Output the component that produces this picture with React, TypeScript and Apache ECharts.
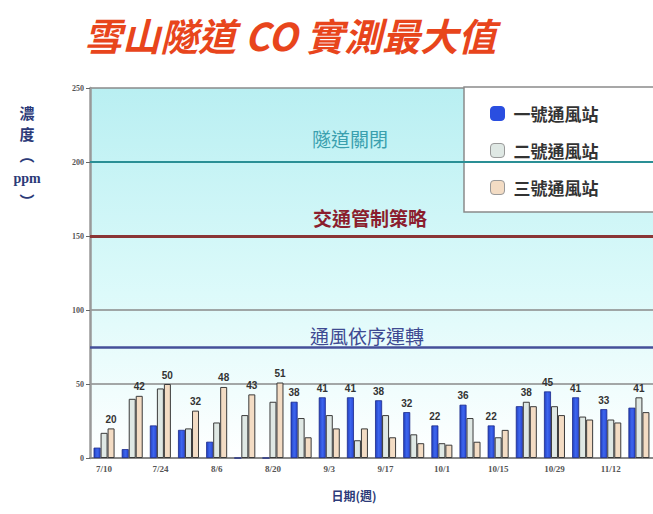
import React, { useEffect, useRef } from "react";
import * as echarts from "echarts";

const categories = [
  "7/10", "7/17", "7/24", "7/31", "8/6", "8/13", "8/20", "8/27", "9/3", "9/10",
  "9/17", "9/24", "10/1", "10/8", "10/15", "10/22", "10/29", "11/5", "11/12", "11/19",
];
const station1 = [7, 6, 22, 19, 11, 0, 0, 38, 41, 41, 39, 31, 22, 36, 22, 35, 45, 41, 33, 34];
const station2 = [17, 40, 47, 20, 24, 29, 38, 27, 29, 12, 29, 16, 10, 27, 14, 38, 35, 28, 26, 41];
const station3 = [20, 42, 50, 32, 48, 43, 51, 14, 20, 20, 14, 10, 9, 11, 19, 35, 29, 26, 24, 31];
const peakLabels = [20, 42, 50, 32, 48, 43, 51, 38, 41, 41, 38, 32, 22, 36, 22, 38, 45, 41, 33, 41];
const seriesNames = ["一號通風站", "二號通風站", "三號通風站"];
const thresholds = [
  { value: 200, name: "隧道關閉" },
  { value: 150, name: "交通管制策略" },
  { value: 75, name: "通風依序運轉" },
];
const yNameParts = ["濃", "度", "︵", "ppm", "︶"];

const CJK = '"Noto Sans CJK TC", "Noto Sans CJK SC", sans-serif';

export default function App() {
  const ref = useRef<HTMLDivElement>(null);
  useEffect(() => {
    if (!ref.current) return;
    const chart = echarts.init(ref.current, undefined, { renderer: "svg" });
    const all = [station1, station2, station3];
    const peakIdx = categories.map((_, i) => {
      let best = 0;
      for (let s = 1; s < 3; s++) if (all[s][i] > all[best][i]) best = s;
      return best;
    });
    const mk = (s: number) =>
      all[s].map((v, i) => ({
        value: v,
        label: {
          show: peakIdx[i] === s,
          position: "top",
          distance: 4,
          formatter: String(peakLabels[i]),
          color: "#333",
          fontSize: 10,
          fontWeight: "bold",
          fontFamily: "Liberation Sans, sans-serif",
        },
      }));
    const styles = [
      {
        color: new echarts.graphic.LinearGradient(0, 0, 1, 0, [
          { offset: 0, color: "#2240c0" },
          { offset: 0.5, color: "#3d66ee" },
          { offset: 1, color: "#2a4ad8" },
        ]),
        borderColor: "#1a2a8a",
        borderWidth: 0.8,
      },
      { color: "#dfe8e4", borderColor: "#3a3a3a", borderWidth: 1 },
      { color: "#f3dcc4", borderColor: "#3a3a3a", borderWidth: 1 },
    ];
    const legendColors = ["#2a4ee0", "#dfe8e4", "#f3dcc4"];
    const yNameY = [112, 133, 154, 178, 200];
    chart.setOption({
      animation: false,
      backgroundColor: "#ffffff",
      title: {
        text: "雪山隧道 CO 實測最大值",
        left: 285,
        top: 10,
        textAlign: "center",
        textStyle: {
          color: "#e8451c",
          fontSize: 38,
          fontWeight: "bold",
          fontStyle: "italic",
          fontFamily: CJK,
        },
      },
      grid: {
        left: 90,
        right: -7,
        top: 88,
        bottom: 56,
        show: true,
        borderWidth: 0,
        backgroundColor: new echarts.graphic.LinearGradient(0, 0, 0, 1, [
          { offset: 0, color: "#b9eff2" },
          { offset: 0.55, color: "#dcfafa" },
          { offset: 1, color: "#ffffff" },
        ]),
      },
      legend: {
        orient: "vertical",
        left: 464,
        top: 87,
        padding: [18, 80, 16, 26],
        backgroundColor: "#ffffff",
        borderColor: "#8a8a8a",
        borderWidth: 1.5,
        itemWidth: 14,
        itemHeight: 14,
        itemGap: 20,
        data: seriesNames.map((n, i) => ({
          name: n,
          itemStyle: { color: legendColors[i], borderColor: i === 0 ? "#2a4ee0" : "#999", borderWidth: 1 },
        })),
        textStyle: { fontSize: 17, color: "#333", fontFamily: CJK, fontWeight: "bold", padding: [0, 0, 0, 4] },
      },
      xAxis: {
        type: "category",
        data: categories,
        axisLine: { lineStyle: { color: "#888", width: 2 } },
        axisTick: { show: false },
        axisLabel: {
          interval: 1,
          fontSize: 9,
          color: "#555",
          fontWeight: "bold",
          margin: 6,
          fontFamily: "Liberation Serif, serif",
        },
      },
      yAxis: {
        type: "value",
        min: 0,
        max: 250,
        interval: 50,
        axisLine: { show: true, lineStyle: { color: "#999", width: 2.5 } },
        axisTick: { show: true, length: 4, lineStyle: { color: "#666" } },
        axisLabel: { fontSize: 8, color: "#555", margin: 6, fontFamily: "Liberation Serif, serif", fontWeight: "bold" },
        splitLine: { show: true, lineStyle: { color: "#8a8a8a", width: 1.5 } },
      },
      series: [0, 1, 2].map((s) => ({
        type: "bar",
        name: seriesNames[s],
        data: mk(s),
        barWidth: 7,
        barGap: "0%",
        itemStyle: styles[s],
        ...(s === 0
          ? {
              markLine: {
                silent: true,
                symbol: "none",
                label: { show: false },
                data: [
                  { yAxis: thresholds[0].value, lineStyle: { color: "#2a8f95", width: 2, type: "solid" } },
                  { yAxis: thresholds[1].value, lineStyle: { color: "#8a3535", width: 3, type: "solid" } },
                  { yAxis: thresholds[2].value, lineStyle: { color: "#45509a", width: 2.5, type: "solid" } },
                ],
              },
            }
          : {}),
      })),
      graphic: [
        {
          type: "text",
          x: 350,
          y: 138,
          style: {
            text: thresholds[0].name,
            fill: "#3aa0ae",
            fontSize: 19,
            fontFamily: CJK,
            align: "center",
            verticalAlign: "middle",
          },
        },
        {
          type: "text",
          x: 370,
          y: 217,
          style: {
            text: thresholds[1].name,
            fill: "#8b1e2e",
            fontSize: 19,
            fontWeight: "bold",
            fontFamily: CJK,
            align: "center",
            verticalAlign: "middle",
          },
        },
        {
          type: "text",
          x: 367,
          y: 335,
          style: {
            text: thresholds[2].name,
            fill: "#3e4a92",
            fontSize: 19,
            fontFamily: CJK,
            align: "center",
            verticalAlign: "middle",
          },
        },
        ...yNameParts.map((t, i) => ({
          type: "text",
          x: 27,
          y: yNameY[i],
          style: {
            text: t,
            fill: "#2c3a78",
            fontSize: t === "ppm" ? 14 : 15,
            fontWeight: "bold",
            fontFamily: t === "ppm" ? "Liberation Serif, serif" : CJK,
            align: "center",
            verticalAlign: "middle",
          },
        })),
        {
          type: "text",
          x: 354,
          y: 495,
          style: {
            text: "日期(週)",
            fill: "#2c3a78",
            fontSize: 12,
            fontWeight: "bold",
            fontFamily: CJK,
            align: "center",
            verticalAlign: "middle",
          },
        },
      ],
    });
    return () => chart.dispose();
  }, []);
  return <div ref={ref} style={{ width: 653, height: 514, position: "absolute", left: 0, top: 0 }} />;
}
